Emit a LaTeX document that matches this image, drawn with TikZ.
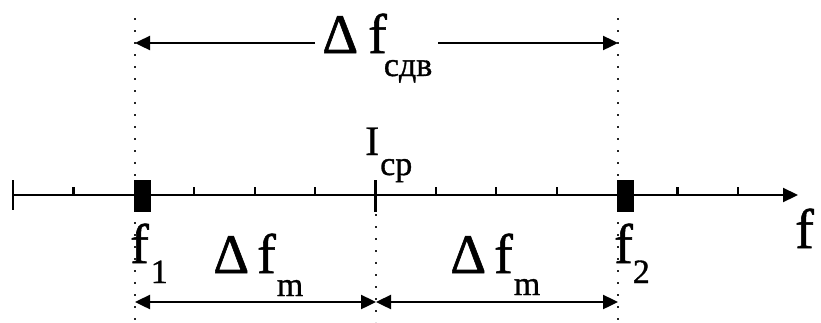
\documentclass[tikz,border=0pt]{standalone}
\usepackage{fontspec}
\setmainfont{Liberation Serif}[FakeBold=1.0]
\usetikzlibrary{arrows.meta}
\newcommand{\bigsz}{\fontsize{56}{60}\selectfont}
\newcommand{\subsz}{\fontsize{34}{36}\selectfont}
\begin{document}
\begin{tikzpicture}[x=1pt,y=-1pt,
  axisline/.style={line width=2.2pt},
  tip/.style={-{Triangle[length=15pt,width=14pt]}},
  dimarrow/.style={line width=2.4pt,{Triangle[length=15pt,width=14pt]}-{Triangle[length=15pt,width=14pt]}},
  guideline/.style={line width=1.6pt,dash pattern=on 1.6pt off 10.4pt,black!85},
  lbl/.style={anchor=base west,inner sep=0pt,font=\bigsz},
  blockmark/.style={fill=black,inner sep=0pt,minimum width=17pt,minimum height=32pt,anchor=north west}]
\useasboundingbox (0,0) rectangle (821,322);
% guide lines
\coordinate (gLt) at (135,18); \coordinate (gLb) at (135,322);
\coordinate (gRt) at (618,18); \coordinate (gRb) at (618,322);
\coordinate (gCt) at (376,214); \coordinate (gCb) at (376,322);
\draw[guideline] (gLt) -- (gLb);
\draw[guideline] (gRt) -- (gRb);
\draw[guideline] (gCt) -- (gCb);
% top dimension
\coordinate (tL) at (135,43); \coordinate (tR) at (618,43);
\coordinate (gapL) at (315,43); \coordinate (gapR) at (438,43);
\draw[line width=2.4pt,tip] (gapL) -- (tL);
\draw[line width=2.4pt,tip] (gapR) -- (tR);
\node[lbl] (dfs) at (322,53) {Δ\kern10pt f\kern-3pt\raisebox{-23pt}{\subsz сдв}};
% axis
\coordinate (a0) at (13,195); \coordinate (a1) at (798,195);
\draw[axisline,tip] (a0) -- (a1);
\foreach \i in {1,3,4,5,7,8,9,11,12}
  \draw[axisline] ({13+60.4*\i},195) -- ({13+60.4*\i},187);
\draw[axisline] (13,180) -- (13,210);
\draw[axisline] (375.4,180) -- (375.4,212);
\node[blockmark] (m1) at (133.8,180) {};
\node[blockmark] (m2) at (617,180) {};
% bottom dimensions
\coordinate (bL) at (135,302); \coordinate (bC) at (376,302); \coordinate (bR) at (618,302);
\draw[dimarrow] (bL) -- (bC);
\draw[dimarrow] (bC) -- (bR);
% labels
\node[lbl] (f1) at (130,263) {f\kern2pt\raisebox{-20pt}{\subsz 1}};
\node[lbl] (dfm1) at (213,273) {Δ\kern8pt f\kern1pt\raisebox{-23pt}{\subsz m}};
\node[lbl] (dfm2) at (450,273) {Δ\kern8pt f\kern1pt\raisebox{-22pt}{\subsz m}};
\node[lbl] (f2) at (614,263) {f\raisebox{-20pt}{\subsz 2}};
\node[lbl] (fax) at (795,248) {f};
\node[anchor=base west,inner sep=0pt,font=\fontsize{42}{44}\selectfont] (icp) at (365,155) {I\kern1pt\raisebox{-20pt}{\subsz ср}};
\end{tikzpicture}
\end{document}
